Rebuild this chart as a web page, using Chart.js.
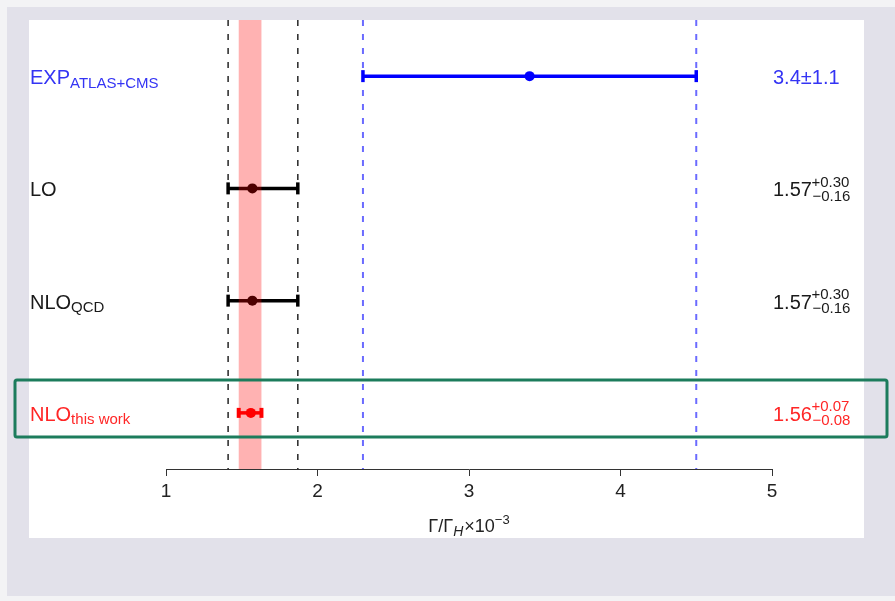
<!DOCTYPE html>
<html>
<head>
<meta charset="utf-8">
<script src="https://cdn.jsdelivr.net/npm/chart.js@4/dist/chart.umd.min.js"></script>
<style>
  html, body { margin: 0; padding: 0; background: #f3f3f5; }
  #wrap { width: 895px; height: 601px; position: relative; }
</style>
</head>
<body>
<div id="wrap"><canvas id="c" width="895" height="601"></canvas></div>
<script>
// ---- data ----
const rowLabels   = ['EXP', 'LO', 'NLO', 'NLO'];
const rowSubs     = ['ATLAS+CMS', '', 'QCD', 'this work'];
const centers     = [3.4, 1.57, 1.57, 1.56];
const errPlus     = [1.1, 0.30, 0.30, 0.07];
const errMinus    = [1.1, 0.16, 0.16, 0.08];
const valueTexts  = ['3.4±1.1', '1.57', '1.57', '1.56'];
const supTexts    = ['', '+0.30', '+0.30', '+0.07'];
const subTexts    = ['', '−0.16', '−0.16', '−0.08'];
const rowPos      = [0.5, 1.5, 2.5, 3.5];
const xTicks      = [1, 2, 3, 4, 5];
const xTitle      = { base: 'Γ/Γ', sub: 'H', mid: '×10', sup: '−3' };

// styles
const lineColors = ['#0000ff', '#000000', '#000000', '#ff0000'];
const textColors = ['#3434f4', '#1a1a1a', '#1a1a1a', '#ff2626'];
const FONT = '"Liberation Sans", Arial, Helvetica, sans-serif';

// reference lines derived from the rows
const blueLines  = [centers[0] - errMinus[0], centers[0] + errPlus[0]];
const blackLines = [centers[1] - errMinus[1], centers[1] + errPlus[1]];
const band       = [centers[3] - errMinus[3], centers[3] + errPlus[3]];

const datasets = [];
// centre points (drawn on top)
centers.forEach((c, i) => {
  datasets.push({
    data: [{ x: c, y: rowPos[i] }],
    showLine: false,
    pointRadius: 5,
    pointBackgroundColor: lineColors[i],
    pointBorderWidth: 0,
    pointStyle: 'circle'
  });
});
// error bars with caps
centers.forEach((c, i) => {
  datasets.push({
    data: [{ x: c - errMinus[i], y: rowPos[i] }, { x: c + errPlus[i], y: rowPos[i] }],
    showLine: true,
    borderColor: lineColors[i],
    borderWidth: 3.5,
    pointStyle: 'line',
    pointRotation: 90,
    pointRadius: i === 3 ? 5 : 6,
    pointBorderWidth: i === 3 ? 4 : 3.5,
    pointBorderColor: lineColors[i],
    clip: false
  });
});
// dashed reference lines
blueLines.forEach(x => datasets.push({
  data: [{ x, y: 0 }, { x, y: 4 }],
  showLine: true, borderColor: '#6b6bff', borderWidth: 2, borderDash: [6, 8], pointRadius: 0
}));
blackLines.forEach(x => datasets.push({
  data: [{ x, y: 0 }, { x, y: 4 }],
  showLine: true, borderColor: '#333333', borderWidth: 1.6, borderDash: [6, 8], pointRadius: 0
}));

function richText(ctx, x, y, parts) {
  let cx = x;
  parts.forEach(p => {
    ctx.font = (p.style || '') + ' ' + p.size + 'px ' + FONT;
    ctx.fillText(p.t, cx, y + (p.dy || 0));
    cx += ctx.measureText(p.t).width + (p.gap || 0);
  });
  return cx;
}

const deco = {
  id: 'deco',
  beforeDraw(chart) {
    const ctx = chart.ctx;
    ctx.save();
    ctx.fillStyle = '#f3f3f5';
    ctx.fillRect(0, 0, 895, 601);
    ctx.fillStyle = '#e2e1ea';
    ctx.fillRect(7, 7, 888, 589);
    ctx.fillStyle = '#ffffff';
    ctx.fillRect(29, 20, 835, 518);
    ctx.restore();
  },
  afterDatasetsDraw(chart) {
    const ctx = chart.ctx, xs = chart.scales.x, a = chart.chartArea;
    const x0 = xs.getPixelForValue(band[0]), x1 = xs.getPixelForValue(band[1]);
    ctx.save();
    ctx.fillStyle = 'rgba(255,0,0,0.3)';
    ctx.fillRect(x0, a.top, x1 - x0, a.bottom - a.top);
    ctx.restore();
  },
  afterDraw(chart) {
    const ctx = chart.ctx, ys = chart.scales.y, a = chart.chartArea;
    ctx.save();
    ctx.textAlign = 'left';
    ctx.textBaseline = 'alphabetic';
    rowLabels.forEach((lab, i) => {
      const py = ys.getPixelForValue(rowPos[i]);
      ctx.fillStyle = textColors[i];
      const parts = [{ t: lab, size: 20, dy: 8 }];
      if (rowSubs[i]) parts.push({ t: rowSubs[i], size: 15, dy: 11.5 });
      richText(ctx, 30, py, parts);
      const endX = richText(ctx, 773, py, [{ t: valueTexts[i], size: 20, dy: 8 }]);
      if (supTexts[i]) {
        ctx.font = '15px ' + FONT;
        ctx.fillText(supTexts[i], endX - 0.5, py - 1.5);
        ctx.fillText(subTexts[i], endX + 0.5, py + 12.5);
      }
    });
    // axis title
    ctx.fillStyle = '#222';
    const cx = (a.left + a.right) / 2;
    const tparts = [
      { t: xTitle.base, size: 18 },
      { t: xTitle.sub, size: 14, dy: 4, style: 'italic', gap: 1 },
      { t: xTitle.mid, size: 18 },
      { t: xTitle.sup, size: 13, dy: -8 }
    ];
    let w = 0;
    tparts.forEach(p => { ctx.font = (p.style || '') + ' ' + p.size + 'px ' + FONT; w += ctx.measureText(p.t).width + (p.gap || 0); });
    richText(ctx, cx - w / 2, 532, tparts);
    // highlight box around the "this work" row
    const ry = ys.getPixelForValue(rowPos[3]);
    ctx.strokeStyle = '#1c7c5c';
    ctx.lineWidth = 3;
    ctx.beginPath();
    ctx.roundRect(15, ry - 33, 872, 57, 2);
    ctx.stroke();
    ctx.restore();
  }
};

new Chart(document.getElementById('c'), {
  type: 'scatter',
  data: { datasets },
  options: {
    responsive: false,
    animation: false,
    events: [],
    layout: { padding: { left: 166, right: 123, top: 20, bottom: 0 } },
    plugins: { legend: { display: false }, tooltip: { enabled: false }, title: { display: false } },
    scales: {
      x: {
        type: 'linear', min: 1, max: 5,
        afterFit(scale) { scale.height = 132; },
        afterBuildTicks(scale) { scale.ticks = xTicks.map(v => ({ value: v })); },
        grid: { drawOnChartArea: false, drawTicks: true, tickLength: 7, tickColor: '#333', tickWidth: 1 },
        border: { display: true, color: '#333', width: 1 },
        ticks: { color: '#222', padding: 4, font: { family: FONT, size: 19 } }
      },
      y: { type: 'linear', min: 0, max: 4, reverse: true, display: false }
    }
  },
  plugins: [deco]
});
</script>
</body>
</html>
